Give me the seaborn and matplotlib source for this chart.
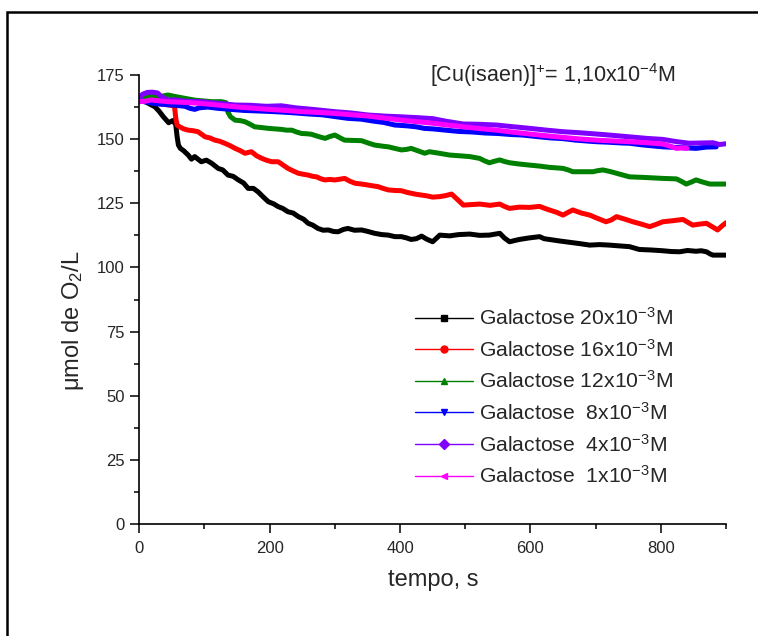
import matplotlib
matplotlib.use("Agg")
import matplotlib.pyplot as plt
from matplotlib.lines import Line2D
from matplotlib.patches import Rectangle
from matplotlib.ticker import MultipleLocator
import seaborn as sns
import pandas as pd

# Oxygen consumption traces (time in s, O2 in umol/L)
t_20 = [0, 10, 24, 30, 37, 45, 52, 56, 58, 60, 63, 68, 75, 80, 85, 95, 103, 111, 121, 128, 136, 144, 152, 160, 167,
        175, 182, 190, 198, 206, 213, 220, 228, 236, 244, 252, 259, 266, 274, 282, 290, 298, 305, 313, 320, 330, 341,
        351, 361, 372, 382, 392, 402, 410, 417, 425, 433, 441, 450, 461, 476, 490, 507, 522, 537, 553, 560, 568, 576,
        583, 598, 614, 621, 629, 645, 660, 675, 691, 706, 721, 736, 752, 767, 785, 803, 816, 829, 841, 854, 862, 870,
        876, 880, 890, 900]
o2_20 = [165.0, 164.5, 162.6, 161.0, 158.7, 156.4, 157.3, 155.5, 151.0, 147.7, 146.4, 145.5, 143.8, 142.2, 143.2,
         141.2, 141.8, 140.6, 138.6, 138.0, 136.0, 135.5, 134.1, 132.9, 130.8, 130.8, 129.5, 127.5, 125.6, 124.8,
         123.7, 123.0, 121.7, 121.2, 119.8, 118.8, 117.2, 116.5, 115.2, 114.5, 114.6, 114.0, 113.9, 114.8, 115.2,
         114.5, 114.6, 114.0, 113.3, 112.8, 112.6, 112.0, 112.0, 111.5, 110.9, 111.2, 112.2, 111.0, 110.0, 112.6,
         112.3, 112.8, 113.0, 112.5, 112.6, 113.3, 111.5, 110.0, 110.5, 110.9, 111.5, 112.0, 111.2, 110.9, 110.3,
         109.8, 109.3, 108.7, 108.9, 108.7, 108.4, 108.1, 107.0, 106.8, 106.5, 106.2, 106.1, 106.6, 106.3, 106.5,
         106.1, 105.2, 104.8, 104.8, 104.8]

t_16 = [0, 10, 20, 30, 40, 48, 54, 56, 58, 62, 68, 75, 82, 90, 95, 101, 108, 116, 123, 131, 139, 147, 155, 162, 167,
        172, 180, 188, 195, 203, 213, 220, 228, 236, 244, 252, 259, 266, 272, 279, 285, 292, 300, 308, 315, 323, 331,
        341, 351, 358, 366, 374, 382, 392, 402, 410, 417, 425, 433, 441, 450, 461, 470, 479, 488, 497, 510, 522, 538,
        553, 560, 568, 583, 599, 614, 622, 629, 640, 650, 658, 665, 678, 691, 704, 716, 724, 732, 745, 757, 770, 783,
        793, 803, 818, 834, 842, 849, 860, 870, 878, 887, 894, 900]
o2_16 = [165.0, 164.8, 164.2, 163.8, 163.5, 163.2, 162.8, 158.0, 155.5, 154.8, 154.0, 153.5, 153.3, 152.9, 152.0,
         150.9, 150.5, 149.6, 149.2, 148.4, 147.5, 146.4, 145.5, 144.5, 144.8, 145.1, 143.5, 142.5, 141.8, 141.2,
         141.2, 140.0, 138.6, 137.6, 136.7, 136.3, 136.0, 135.5, 135.3, 134.5, 134.1, 134.3, 134.1, 134.4, 134.7,
         133.6, 132.8, 132.5, 132.1, 131.8, 131.5, 130.8, 130.2, 130.0, 129.9, 129.3, 128.9, 128.5, 128.2, 127.9,
         127.4, 127.6, 128.0, 128.6, 126.5, 124.3, 124.5, 124.7, 124.2, 124.7, 123.8, 123.0, 123.5, 123.4, 123.8,
         123.0, 122.4, 121.5, 120.4, 121.5, 122.4, 121.2, 120.4, 119.0, 117.8, 118.5, 119.8, 118.8, 117.8, 116.9,
         115.9, 116.8, 117.8, 118.2, 118.7, 117.5, 116.5, 116.9, 117.2, 116.0, 114.6, 116.2, 117.4]

t_12 = [0, 10, 20, 30, 44, 55, 70, 85, 98, 111, 126, 133, 136, 140, 147, 155, 162, 170, 177, 188, 198, 208, 218, 226,
        234, 241, 249, 257, 264, 275, 285, 292, 300, 308, 315, 328, 341, 351, 361, 372, 382, 392, 402, 410, 417, 428,
        438, 445, 460, 476, 492, 507, 522, 530, 537, 545, 553, 560, 568, 583, 598, 614, 629, 640, 650, 658, 665, 680,
        696, 703, 711, 722, 732, 742, 752, 762, 772, 788, 803, 814, 824, 832, 839, 847, 854, 864, 875, 888, 900]
o2_12 = [165.5, 166.5, 166.8, 166.5, 167.2, 166.6, 165.9, 165.2, 164.9, 164.6, 164.6, 164.2, 160.5, 158.7, 157.4,
         157.2, 156.8, 155.8, 154.8, 154.5, 154.2, 154.0, 153.8, 153.5, 153.5, 152.8, 152.2, 152.1, 151.9, 151.0,
         150.3, 151.0, 151.6, 150.5, 149.6, 149.5, 149.4, 148.5, 147.7, 147.3, 147.0, 146.4, 145.8, 146.0, 146.4,
         145.4, 144.5, 145.1, 144.5, 143.8, 143.5, 143.2, 142.5, 141.5, 140.8, 141.4, 141.9, 141.3, 140.8, 140.3,
         139.9, 139.5, 139.0, 138.8, 138.6, 138.0, 137.3, 137.3, 137.3, 137.7, 138.0, 137.4, 136.7, 136.0, 135.3,
         135.2, 135.1, 134.9, 134.7, 134.6, 134.5, 133.5, 132.5, 133.3, 134.1, 133.3, 132.5, 132.5, 132.5]

t_8 = [0, 10, 25, 40, 55, 70, 78, 85, 92, 105, 121, 140, 160, 180, 200, 223, 240, 260, 280, 300, 320, 340, 360, 375,
       392, 410, 425, 437, 450, 470, 490, 510, 530, 550, 570, 588, 610, 630, 650, 670, 690, 701, 720, 740, 752, 770,
       790, 803, 820, 840, 854, 870, 885]
o2_8 = [165.0, 164.5, 163.8, 163.5, 163.2, 162.8, 162.0, 161.6, 162.2, 162.5, 162.0, 161.6, 161.2, 161.0, 160.8,
        160.5, 160.2, 159.8, 159.5, 158.8, 158.1, 157.8, 157.0, 156.5, 155.5, 155.2, 154.8, 154.2, 154.0, 153.5,
        153.0, 152.8, 152.4, 152.2, 151.8, 151.6, 151.0, 150.5, 150.2, 149.6, 149.2, 149.0, 148.8, 148.5, 148.4,
        147.8, 147.3, 147.0, 146.8, 146.6, 146.4, 146.9, 147.0]

t_4 = [0, 5, 12, 20, 28, 34, 44, 55, 70, 95, 120, 147, 170, 195, 218, 240, 270, 300, 325, 351, 375, 402, 425, 450, 470,
       497, 520, 548, 575, 599, 625, 650, 675, 701, 725, 752, 778, 803, 825, 844, 862, 880, 890, 900]
o2_4 = [166.0, 167.5, 168.2, 168.3, 168.0, 166.5, 165.2, 165.3, 164.8, 164.6, 164.0, 163.3, 163.2, 162.8, 163.0,
        162.2, 161.5, 160.7, 160.2, 159.4, 159.0, 158.7, 158.4, 158.0, 157.0, 155.9, 155.8, 155.5, 154.8, 154.2,
        153.5, 152.9, 152.5, 152.0, 151.5, 150.9, 150.3, 149.9, 149.0, 148.4, 148.5, 148.6, 147.9, 148.2]

t_1 = [0, 10, 18, 28, 44, 70, 95, 120, 147, 172, 198, 224, 249, 275, 300, 325, 351, 376, 402, 425, 450, 472, 497, 522,
       548, 574, 599, 625, 650, 675, 701, 727, 752, 778, 803, 814, 824, 832, 840]
o2_1 = [164.6, 164.8, 165.3, 165.0, 164.6, 164.3, 163.9, 163.3, 162.6, 162.1, 161.6, 161.2, 160.7, 160.4, 160.0,
        159.5, 159.0, 158.2, 157.4, 156.8, 156.2, 155.5, 154.8, 154.1, 153.5, 152.7, 152.0, 151.3, 150.7, 150.1,
        149.6, 149.3, 149.0, 148.6, 148.1, 147.3, 146.4, 146.6, 146.4]

labels = ["Galactose 20x10$^{-3}$M", "Galactose 16x10$^{-3}$M", "Galactose 12x10$^{-3}$M",
          "Galactose  8x10$^{-3}$M", "Galactose  4x10$^{-3}$M", "Galactose  1x10$^{-3}$M"]
colors = ["#000000", "#FF0000", "#008000", "#0000FF", "#8000FF", "#FF00FF"]
markers = ["s", "o", "^", "v", "D", "<"]
times = [t_20, t_16, t_12, t_8, t_4, t_1]
values = [o2_20, o2_16, o2_12, o2_8, o2_4, o2_1]

x_ticks = [0, 200, 400, 600, 800]
y_ticks = [0, 25, 50, 75, 100, 125, 150, 175]

sns.set_style("ticks")
plt.rcParams["font.family"] = ["Liberation Sans", "DejaVu Sans"]
plt.rcParams["mathtext.fontset"] = "custom"
plt.rcParams["mathtext.rm"] = "Liberation Sans"
plt.rcParams["mathtext.it"] = "Liberation Sans:italic"
plt.rcParams["mathtext.bf"] = "Liberation Sans:bold"

fig = plt.figure(figsize=(7.58, 6.36), dpi=100)
W, H = 758, 636
ax = fig.add_axes([139.3 / W, (H - 524) / H, (726 - 139.3) / W, (524 - 75) / H])

for t, v, c in zip(times, values, colors):
    df = pd.DataFrame({"tempo": t, "o2": v})
    sns.lineplot(data=df, x="tempo", y="o2", ax=ax, color=c, lw=3.6,
                 estimator=None, sort=False, legend=False)

ax.set_xlim(0, 900)
ax.set_ylim(0, 175)
ax.set_xticks(x_ticks)
ax.set_yticks(y_ticks)
ax.xaxis.set_minor_locator(MultipleLocator(100))
ax.yaxis.set_minor_locator(MultipleLocator(12.5))
ax.tick_params(which="major", direction="out", length=6.5, width=1.1, labelsize=12, color="black")
ax.tick_params(axis="x", which="major", pad=6)
ax.tick_params(axis="y", which="major", pad=4)
ax.tick_params(which="minor", direction="out", length=3.8, width=1.1, color="black")
for side in ["top", "right"]:
    ax.spines[side].set_visible(False)
for side in ["left", "bottom"]:
    ax.spines[side].set_linewidth(1.2)
    ax.spines[side].set_color("black")

ax.set_xlabel("tempo, s", fontsize=17)
ax.set_ylabel("μmol de O$_2$/L", fontsize=17)
ax.xaxis.set_label_coords(0.5006, -0.100)
ax.yaxis.set_label_coords(-0.090, 0.452)

ax.text(445.5, 172.2, "[Cu(isaen)]$^{+}$= 1,10x10$^{-4}$M", fontsize=15.5, ha="left", va="baseline")

handles = [Line2D([], [], color=c, lw=1.0, marker=m, markersize=5) for c, m in zip(colors, markers)]
ax.legend(handles, labels, loc="upper left", bbox_to_anchor=((415 - 139.3) / 586.7, (524 - 307) / 449),
          frameon=False, fontsize=15.2, borderpad=0, handlelength=2.75, handletextpad=0.3,
          labelspacing=0.46, borderaxespad=0)

fig.add_artist(Rectangle((7 / W, -0.1), 1.2, 1 - 12 / H + 0.1, transform=fig.transFigure,
                         fill=False, lw=1.8, edgecolor="black"))

fig.savefig("out.png", dpi=100)
